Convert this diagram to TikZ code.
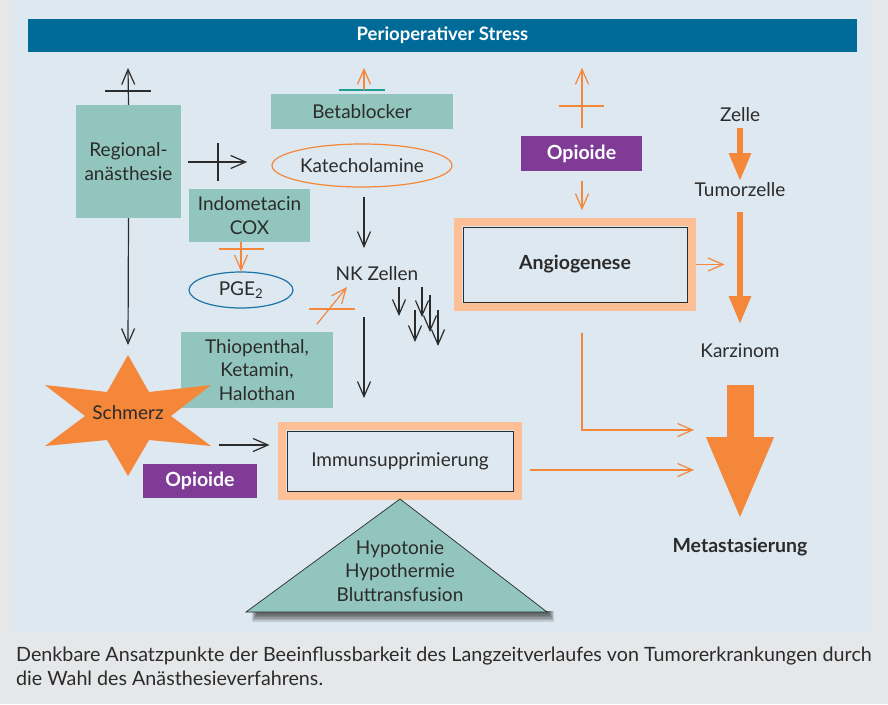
\documentclass[tikz,border=0pt]{standalone}
\usepackage{fontspec}
\setmainfont{Lato}
\usetikzlibrary{arrows.meta}
\usetikzlibrary{shapes.geometric}
\usetikzlibrary{positioning}

\definecolor{gris}{HTML}{E5E7E9}
\definecolor{panneau}{HTML}{DDE8F1}
\definecolor{bleuB}{HTML}{006B99}
\definecolor{bleuE}{HTML}{1F74A6}
\definecolor{vertB}{HTML}{92C5BD}
\definecolor{vertF}{HTML}{1F9E93}
\definecolor{orangeF}{HTML}{F5873A}
\definecolor{orangeC}{HTML}{FDC096}
\definecolor{violetB}{HTML}{7F3B96}
\definecolor{texte}{HTML}{2B2B2B}

\tikzset{
  txt/.style={text=texte, font=\fontsize{19}{23.5}\selectfont, inner sep=0pt, align=center},
  gras/.style={font=\fontsize{19.5}{23}\selectfont\bfseries},
  boite/.style={txt, fill=vertB},
  opio/.style={fill=violetB, text=white, font=\fontsize{19.5}{23}\selectfont\bfseries, inner sep=0pt},
  cadre/.style={txt, draw=texte, line width=1pt},
  fleche/.style={line width=1.2pt, -{Straight Barb[length=15pt,width=13pt]}},
  noir/.style={fleche, draw=texte},
  orangeA/.style={fleche, draw=orangeF},
  barre/.style={line width=1.2pt},
  grosse/.style={draw=orangeF, line width=6pt, -{Triangle[length=28pt,width=21pt]}},
  legende/.style={anchor=base west, text=texte, font=\fontsize{19.7}{24}\selectfont, inner sep=0pt},
}

\begin{document}
\begin{tikzpicture}[x=1pt,y=-1pt]

% fond et panneau
\useasboundingbox (0,0) rectangle (888,704);
\fill[gris] (0,0) rectangle (888,704);
\fill[panneau] (14,0) rectangle (872,632);

% titre
\node[fill=bleuB, text=white, font=\fontsize{18.5}{21}\selectfont\bfseries, minimum width=829pt, minimum height=33pt, inner sep=0pt] (stress) at (442.5,35.5) {Perioperativer Stress};

% boites vertes
\node[boite, minimum width=105pt, minimum height=113pt] (regio) at (128.5,161.5) {Regional-\\anästhesie};
\node[boite, minimum width=182pt, minimum height=35pt] (beta) at (362,111.5) {Betablocker};
\node[boite, minimum width=121pt, minimum height=53pt] (indo) at (249.5,215.5) {Indometacin\\COX};
\node[boite, minimum width=152pt, minimum height=76pt] (thio) at (257,370) {Thiopenthal,\\Ketamin,\\Halothan};

% ellipses
\node[txt, ellipse, draw=orangeF, line width=1.2pt, minimum width=180pt, minimum height=43pt] (kat) at (362,165.5) {Katecholamine};
\node[txt, ellipse, draw=bleuE, line width=1.2pt, minimum width=104pt, minimum height=36pt] (pge) at (241,290) {PGE\textsubscript{2}};

% opioide
\node[opio, minimum width=121pt, minimum height=35pt] (opiH) at (581.5,153.5) {Opioide};
\node[opio, minimum width=114pt, minimum height=34pt] (opiB) at (200,481) {Opioide};

% etoile Schmerz
\fill[orangeF] (128,355) -- (149,392) -- (211,385) -- (171,416) -- (211,446) -- (149,440)
  -- (128,476) -- (107,440) -- (45,446) -- (85,416) -- (45,385) -- (107,392) -- cycle;
\node[txt] (schmerz) at (128,413) {Schmerz};

% cadres orange
\node[cadre, minimum width=226pt, minimum height=60pt] (immun) at (400,461) {Immunsupprimierung};
\draw[orangeC, line width=8pt] ([shift={(-4.5,-4.5)}]immun.north west) rectangle ([shift={(4.5,4.5)}]immun.south east);
\node[cadre, gras, minimum width=224pt, minimum height=75pt] (angio) at (575,264.5) {Angiogenese};
\draw[orangeC, line width=8pt] ([shift={(-4.5,-4.5)}]angio.north west) rectangle ([shift={(4.5,4.5)}]angio.south east);

% triangle et ombre
\foreach \k in {0,...,5}
  \fill[black, opacity=0.13] (252+\k,611) rectangle (554-\k,622-1.6*\k);
\draw[fill=vertB, draw=texte, line width=0.7pt] (400,499) -- (547,612) -- (246,612) -- cycle;
\node[txt] (hypo) at (400,571) {Hypotonie\\Hypothermie\\Bluttransfusion};

% textes de droite
\node[txt] (nk) at (377,274) {NK Zellen};
\node[txt] (zelle) at (740,115) {Zelle};
\node[txt] (tumor) at (740,190) {Tumorzelle};
\node[txt] (karz) at (740,351) {Karzinom};
\node[txt, gras] (meta) at (740,547) {Metastasierung};

% coordonnees libres
\coordinate (regioH) at (128,68);
\coordinate (schmerzH) at (128,345);
\coordinate (nkH) at (364,248);
\coordinate (thioH) at (317,324);
\coordinate (nkB) at (347,287);
\coordinate (nkU) at (364,317);
\coordinate (immunH) at (364,398);
\coordinate (schmerzD) at (219,445);
\coordinate (metaG1) at (694,430);
\coordinate (metaG2) at (694,470);

% fleches noires
\draw[noir] (regio.north) -- (regioH);
\draw[barre, texte] (105,91) -- (151,91);
\draw[noir] (regio.south) -- (schmerzH);
\draw[noir] ([shift={(7,0.5)}]regio.east) -- ++(59,0);
\draw[barre, texte] (218,143) -- (218,181);
\draw[noir] ([shift={(2,9)}]kat.south) -- (nkH);
\draw[noir] (nkU) -- (immunH);
\foreach \x/\a/\b in {399/287/316, 422/287/317, 430/295/332, 415/310/342, 438/310/346}
  \draw[noir] (\x,\a) -- (\x,\b);
\draw[noir] (schmerzD) -- ([shift={(-17,-16)}]immun.west);

% fleches orange
\draw[barre, vertF] (339,90) -- (385,90);
\draw[orangeA] ([shift={(2,-4)}]beta.north) -- ++(0,-22);
\draw[orangeA] (pge.north |- indo.south) -- (pge.north);
\draw[barre, orangeF] (219,249) -- (264,249);
\draw[orangeA] (thioH) -- (nkB);
\draw[barre, orangeF] (309,309) -- (355,309);
\draw[orangeA] ([shift={(0.5,-8)}]opiH.north) -- ++(0,-60);
\draw[barre, orangeF] (559,106) -- (604,106);
\draw[orangeA] ([shift={(0.5,10)}]opiH.south) -- ++(0,29);
\draw[orangeA] ([shift={(8,0)}]angio.east) -- ++(29,0);
\draw[orangeA] ([shift={(7,30)}]angio.south) |- (metaG1);
\draw[orangeA] ([shift={(16,9)}]immun.east) -- (metaG2);

% grosses fleches
\draw[grosse] ([shift={(0,13)}]zelle.center) -- ([shift={(0,-9)}]tumor.center);
\draw[grosse] ([shift={(0,22)}]tumor.center) -- ([shift={(0,-27)}]karz.center);
\draw[draw=orangeF, line width=27pt, -{Triangle[length=84pt,width=61pt]}] ([shift={(0,34)}]karz.center) -- ([shift={(0,-26)}]meta.center);

% legende
\node[legende] (leg1) at (16,661) {Denkbare Ansatzpunkte der Beeinflussbarkeit des Langzeitverlaufes von Tumorerkrankungen durch};
\node[legende] (leg2) at (16,685) {die Wahl des Anästhesieverfahrens.};

\end{tikzpicture}
\end{document}
